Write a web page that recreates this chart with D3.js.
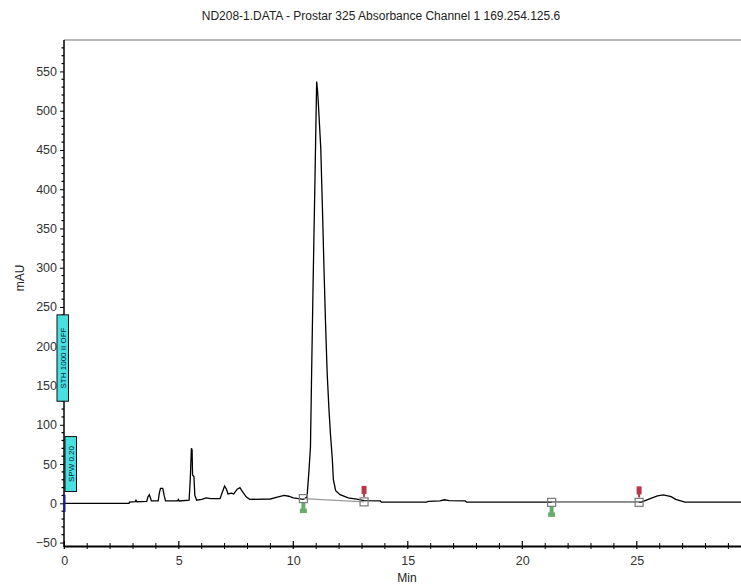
<!DOCTYPE html>
<html><head><meta charset="utf-8">
<script src="https://cdn.jsdelivr.net/npm/d3@7"></script>
<style>
html,body{margin:0;padding:0;background:#fff;}
svg{display:block;font-family:"Liberation Sans",Arial,sans-serif;}
</style></head>
<body><svg id="c" width="741" height="585"></svg>
<script>
const title = "ND208-1.DATA - Prostar 325 Absorbance Channel 1 169.254.125.6";
const xLabel = "Min";
const yLabel = "mAU";
const xTicks = [0, 5, 10, 15, 20, 25];
const yTicks = [-50, 0, 50, 100, 150, 200, 250, 300, 350, 400, 450, 500, 550];

// chromatogram trace (time in min, absorbance in mAU)
const traceTime = [0, 2.83, 2.84, 3.1, 3.13, 3.17, 3.6, 3.65, 3.71, 3.76, 3.8, 4.1, 4.15, 4.2, 4.3, 4.36, 4.42,
  4.95, 4.98, 5.02, 5.45, 5.5, 5.55, 5.58, 5.6, 5.66, 5.7, 5.78, 6.0, 6.2, 6.4, 6.8, 6.9, 7.0, 7.08, 7.15,
  7.3, 7.4, 7.55, 7.67, 7.78, 7.95, 8.1, 9.0, 9.3, 9.6, 9.8, 10.0, 10.44, 10.6, 10.68, 10.75, 10.8, 10.87,
  10.95, 11.0, 11.02, 11.06, 11.09, 11.2, 11.27, 11.34, 11.41, 11.48, 11.56, 11.63, 11.7, 11.75, 11.85,
  12.04, 12.4, 12.77, 13.09, 13.8, 13.85, 15.8, 15.9, 16.4, 16.6, 16.8, 17.5, 17.57, 25.2, 25.5, 25.9,
  26.16, 26.5, 26.7, 27.1, 29.6];
const traceValue = [0, 0, 1.5, 2, 4, 2, 2.5, 8, 11, 7, 3, 3, 13, 19, 19, 10, 3,
  3, 5, 3, 4, 30, 70, 68, 36, 34, 10, 4, 5, 7, 6, 6, 14, 22, 18, 12,
  13, 12, 18, 20, 15, 8, 5, 5.5, 8, 10, 9, 7, 5, 8, 40, 72, 166, 289,
  418, 505, 537, 525, 511, 452, 378, 299, 227, 165, 118, 85, 58, 30, 16,
  11, 7, 5.3, 3.5, 3, 1.5, 1.5, 2.5, 3, 4.5, 3.5, 3, 1.5, 1.5, 5, 9.5,
  10.8, 8.5, 5, 1.5, 1.5];

// integration events
const peakStartTime = [10.44, 21.28];
const peakStartValue = [6, 1.2];
const peakEndTime = [13.09, 25.1];
const peakEndValue = [1.8, 1.2];

// timed event labels
const eventLabels = ["STH 1000  II OFF", "SPW 0.20"];
const eventTop = [240, 85];
const eventBottom = [130, 15];

const svg = d3.select("#c");
const x = d3.scaleLinear().domain([0, 29.55]).range([64.3, 741]);
const y = d3.scaleLinear().domain([-55, 590]).range([546.5, 40]);

// title
svg.append("text").attr("x", 381).attr("y", 20).attr("text-anchor", "middle")
  .attr("font-size", 12).attr("fill", "#222").text(title);

// frame top line
svg.append("line").attr("x1", 64).attr("x2", 741).attr("y1", 40).attr("y2", 40)
  .attr("stroke", "#777").attr("stroke-width", 1);

// y axis
const yAxis = d3.axisLeft(y).tickValues(yTicks).tickSize(4).tickPadding(3).tickFormat(d3.format("d"));
const gy = svg.append("g").attr("transform", "translate(64,0)").call(yAxis);
gy.select(".domain").remove();
gy.selectAll("text").attr("font-size", 12.5).attr("fill", "#333").attr("font-family", "Liberation Sans, Arial, sans-serif");
const yMinor = d3.range(-50, 590, 10).filter(v => v % 50 !== 0);
svg.append("g").selectAll("line").data(yMinor).join("line")
  .attr("x1", 61.5).attr("x2", 64).attr("y1", d => y(d)).attr("y2", d => y(d))
  .attr("stroke", "#000").attr("stroke-width", 1.2);
svg.append("line").attr("x1", 64).attr("x2", 64).attr("y1", 40).attr("y2", 547)
  .attr("stroke", "#000").attr("stroke-width", 1.5);

// x axis
const xAxis = d3.axisBottom(x).tickValues(xTicks).tickSize(0).tickPadding(9).tickFormat(d3.format("d"));
const gx = svg.append("g").attr("transform", "translate(0,547)").call(xAxis);
gx.select(".domain").remove();
gx.selectAll("text").attr("font-size", 12.5).attr("fill", "#333").attr("font-family", "Liberation Sans, Arial, sans-serif");
svg.append("g").selectAll("line").data(xTicks).join("line")
  .attr("x1", d => x(d)).attr("x2", d => x(d)).attr("y1", 541).attr("y2", 549)
  .attr("stroke", "#000").attr("stroke-width", 1.2);
const xMinor = d3.range(1, 30, 1).filter(v => v % 5 !== 0);
svg.append("g").selectAll("line").data(xMinor).join("line")
  .attr("x1", d => x(d)).attr("x2", d => x(d)).attr("y1", 543).attr("y2", 549)
  .attr("stroke", "#000").attr("stroke-width", 1);
svg.append("line").attr("x1", 64).attr("x2", 741).attr("y1", 546.5).attr("y2", 546.5)
  .attr("stroke", "#000").attr("stroke-width", 2);

// axis titles
svg.append("text").attr("x", 407).attr("y", 582).attr("text-anchor", "middle")
  .attr("font-size", 12).attr("fill", "#222").text(xLabel);
svg.append("text").attr("transform", "translate(24,278) rotate(-90)").attr("text-anchor", "middle")
  .attr("font-size", 12).attr("fill", "#222").text(yLabel);

// trace
const pts = traceTime.map((t, i) => [t, traceValue[i]]);
svg.append("path").datum(pts)
  .attr("d", d3.line().x(d => x(d[0])).y(d => y(d[1])))
  .attr("fill", "none").attr("stroke", "#000").attr("stroke-width", 1.3);

// baselines
const segs = peakStartTime.map((t, i) => [[t, peakStartValue[i]], [peakEndTime[i], peakEndValue[i]]]);
svg.append("g").selectAll("path").data(segs).join("path")
  .attr("d", d3.line().x(d => x(d[0])).y(d => y(d[1])))
  .attr("stroke", "#9a9a9a").attr("stroke-width", 1.3).attr("fill", "none");

// start markers (green) and end markers (red)
peakStartTime.forEach((t, i) => {
  const cx = x(t), cy = y(peakStartValue[i]);
  svg.append("rect").attr("x", cx - 2).attr("y", cy + 4).attr("width", 4).attr("height", 8).attr("fill", "#66ad6c");
  svg.append("rect").attr("x", cx - 3.5).attr("y", cy + 10).attr("width", 7).attr("height", 4.5).attr("fill", "#66ad6c");
});
peakEndTime.forEach((t, i) => {
  const cx = x(t), cy = y(peakEndValue[i]);
  svg.append("rect").attr("x", cx - 2.5).attr("y", cy - 16).attr("width", 5).attr("height", 8).attr("fill", "#b8384a");
  svg.append("rect").attr("x", cx - 1).attr("y", cy - 9).attr("width", 2).attr("height", 4).attr("fill", "#b8384a");
});
// squares
const sq = peakStartTime.map((t, i) => [t, peakStartValue[i]]).concat(peakEndTime.map((t, i) => [t, peakEndValue[i]]));
svg.append("g").selectAll("rect").data(sq).join("rect")
  .attr("x", d => x(d[0]) - 4).attr("y", d => y(d[1]) - 4).attr("width", 8).attr("height", 8)
  .attr("fill", "none").attr("stroke", "#7a7a7a").attr("stroke-width", 1.2);

// blue injection mark
svg.append("line").attr("x1", 64.5).attr("x2", 64.5).attr("y1", y(11)).attr("y2", y(-11))
  .attr("stroke", "#1a1a9a").attr("stroke-width", 2);

// event label boxes
const boxX = [57, 65];
eventLabels.forEach((lab, i) => {
  const top = y(eventTop[i]), bot = y(eventBottom[i]);
  svg.append("rect").attr("x", boxX[i]).attr("y", top).attr("width", 11.5).attr("height", bot - top)
    .attr("fill", "#48e0e0").attr("stroke", "#111").attr("stroke-width", 1);
  svg.append("text").attr("transform", `translate(${boxX[i] + 9},${(top + bot) / 2}) rotate(-90)`)
    .attr("text-anchor", "middle").attr("font-size", 8).attr("fill", "#123").text(lab);
});
</script></body></html>
